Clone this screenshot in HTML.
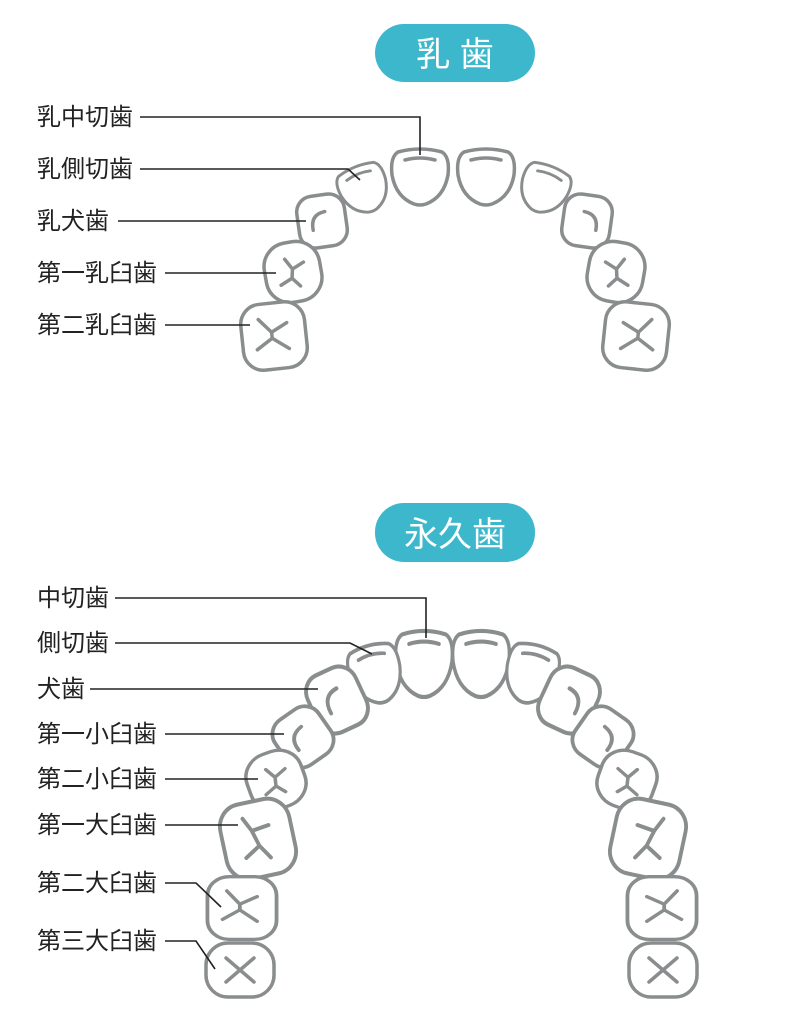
<!DOCTYPE html>
<html><head><meta charset="utf-8"><style>
html,body{margin:0;padding:0;background:#fff;}
svg{display:block}
text{font-family:"Liberation Sans","Noto Sans CJK JP",sans-serif;}
</style></head><body>
<svg width="796" height="1024" viewBox="0 0 796 1024" xmlns="http://www.w3.org/2000/svg">
<defs>
<g id="inc"><path d="M-22,-25 Q0,-31 22,-25 Q30,-20 28,-2 Q24,20 6,27 Q0,29 -6,27 Q-24,20 -28,-2 Q-30,-20 -22,-25Z"/><path d="M-15,-17 Q0,-21 15,-17" fill="none"/></g>
<g id="can"><rect x="-24" y="-26" width="48" height="52" rx="16"/><path d="M-10,8 Q-11,-8 4,-9" fill="none"/></g>
<g id="pm"><rect x="-28" y="-30" width="56" height="60" rx="24"/><path d="M-6,-14 L0,-3 L12,-8 M0,-3 L-2,6 L-14,11 M-2,6 L5,15" fill="none"/></g>
<g id="mol"><rect x="-32" y="-33" width="64" height="66" rx="20"/><path d="M-14,-18 L-2,-4 L14,-12 M-2,-4 L-2,2 L-18,12 M-2,2 L14,14" fill="none"/></g>
<g id="mol1"><rect x="-32" y="-33" width="64" height="66" rx="20"/><path d="M-10,-20 L-4,-8 L12,-10 M-4,-8 L0,6 L-14,14 M0,6 L8,18" fill="none"/></g>
<g id="mol3"><rect x="-34" y="-27" width="68" height="54" rx="22"/><path d="M-14,-12 L14,12 M14,-12 L-14,12" fill="none"/></g>
</defs>
<g fill="#fff" stroke="#8a8d8e" stroke-width="3.5" stroke-linecap="round" stroke-linejoin="round">
<use href="#inc" transform="translate(420,177)"/>
<use href="#inc" transform="translate(486,177) scale(-1,1)"/>
<use href="#inc" transform="translate(364,189) rotate(-22) scale(0.85,0.85)"/>
<use href="#inc" transform="translate(544,189) rotate(22) scale(-0.85,0.85)"/>
<use href="#can" transform="translate(322,221) rotate(-8)"/>
<use href="#can" transform="translate(587,221) rotate(8) scale(-1,1)"/>
<use href="#pm" transform="translate(293,272) rotate(-10)"/>
<use href="#pm" transform="translate(616,272) rotate(10) scale(-1,1)"/>
<use href="#mol" transform="translate(274,336) rotate(-6)"/>
<use href="#mol" transform="translate(636,336) rotate(6) scale(-1,1)"/>
<use href="#inc" transform="translate(424,664) scale(1,1.18)"/>
<use href="#inc" transform="translate(481,664) scale(-1,1.18)"/>
<use href="#inc" transform="translate(376,674) rotate(-15) scale(0.9,1.05)"/>
<use href="#inc" transform="translate(531,674) rotate(15) scale(-0.9,1.05)"/>
<use href="#can" transform="translate(337,700) rotate(-25) scale(1.1,1.2)"/>
<use href="#can" transform="translate(569,700) rotate(25) scale(-1.1,1.2)"/>
<use href="#can" transform="translate(303,737) rotate(-35) scale(1.1,1.05)"/>
<use href="#can" transform="translate(603,737) rotate(35) scale(-1.1,1.05)"/>
<use href="#pm" transform="translate(276,780) rotate(-20) scale(1.02,0.95)"/>
<use href="#pm" transform="translate(627,780) rotate(20) scale(-1.02,0.95)"/>
<use href="#mol1" transform="translate(258,839) rotate(-12) scale(1.1,1.15)"/>
<use href="#mol1" transform="translate(648,839) rotate(12) scale(-1.1,1.15)"/>
<use href="#mol" transform="translate(242,908) scale(1.08,0.95)"/>
<use href="#mol" transform="translate(662,908) scale(-1.08,0.95)"/>
<use href="#mol3" transform="translate(240,970)"/>
<use href="#mol3" transform="translate(663,970)"/>
</g>
<g fill="none" stroke="#222" stroke-width="1.6">
<path d="M140,117 H420 V155"/>
<path d="M140,169 H348 L360,180"/>
<path d="M118,221 H306"/>
<path d="M165,273 H276"/>
<path d="M165,325 H250"/>
<path d="M115,598 H426 V638"/>
<path d="M115,643 H350 L372,654"/>
<path d="M90,689 H318"/>
<path d="M165,734 H284"/>
<path d="M165,779 H258"/>
<path d="M165,825 H238"/>
<path d="M165,883 H196 L221,907"/>
<path d="M165,941 H196 L215,969"/>
</g>
<rect x="375" y="24" width="160" height="58" rx="29" fill="#3db7cc"/>
<text x="455" y="66" fill="#fff" font-size="34" text-anchor="middle">乳 歯</text>
<rect x="375" y="503" width="160" height="59" rx="29" fill="#3db7cc"/>
<text x="455" y="546" fill="#fff" font-size="34" text-anchor="middle">永久歯</text>
<g font-size="24" fill="#222">
<text x="37" y="125">乳中切歯</text>
<text x="37" y="177">乳側切歯</text>
<text x="37" y="229">乳犬歯</text>
<text x="37" y="281">第一乳臼歯</text>
<text x="37" y="333">第二乳臼歯</text>
<text x="37" y="606">中切歯</text>
<text x="37" y="651">側切歯</text>
<text x="37" y="697">犬歯</text>
<text x="37" y="742">第一小臼歯</text>
<text x="37" y="787">第二小臼歯</text>
<text x="37" y="833">第一大臼歯</text>
<text x="37" y="891">第二大臼歯</text>
<text x="37" y="949">第三大臼歯</text>
</g>
</svg>
</body></html>
